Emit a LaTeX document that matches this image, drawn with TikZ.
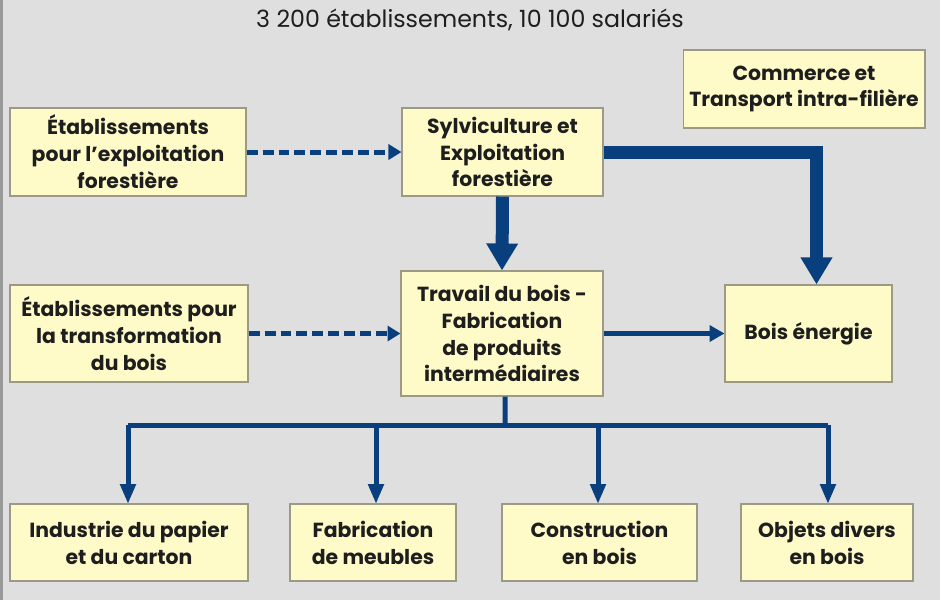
\documentclass[tikz,border=0pt]{standalone}
\usepackage{fontspec}
\setmainfont{Poppins}
\usetikzlibrary{positioning,arrows.meta,calc}
\definecolor{fondgris}{HTML}{DFDFDF}
\definecolor{bordgris}{HTML}{9A9A9A}
\definecolor{boitejaune}{HTML}{FFFBC9}
\definecolor{traitboite}{HTML}{9C9A86}
\definecolor{bleuflux}{HTML}{0A3F7E}
\definecolor{texte}{HTML}{1E1E1E}
\tikzset{
  boite/.style={draw=traitboite, fill=boitejaune, line width=0.6pt, align=center,
    inner sep=0pt, text=texte, font=\bfseries\fontsize{11.6}{15.3}\selectfont},
  flux/.style={draw=bleuflux, line width=0.26cm,
    -{Triangle[width=0.6cm,length=0.54cm]}},
  fluxmoyen/.style={draw=bleuflux, line width=0.11cm,
    -{Triangle[width=0.32cm,length=0.3cm]}},
  fluxdash/.style={draw=bleuflux, line width=0.1cm, dash pattern=on 0.22cm off 0.1cm,
    -{Triangle[width=0.3cm,length=0.26cm]}},
  branche/.style={draw=bleuflux, line width=0.1cm},
  branchefleche/.style={draw=bleuflux, line width=0.1cm,
    -{Triangle[width=0.3cm,length=0.4cm]}}
}
\begin{document}
\begin{tikzpicture}[x=0.02cm, y=-0.02cm]
  % fond
  \fill[fondgris] (0,0) rectangle (940,600);
  \fill[bordgris] (0,0) rectangle (3,600);
  \useasboundingbox (0,0) rectangle (940,600);

  \node[text=texte, font=\fontsize{13.5}{16}\selectfont] (titre) at (470,20)
    {3 200 établissements, 10 100 salariés};

  % ligne du haut
  \node[boite, minimum width=4.84cm, minimum height=1.56cm] (commerce) at (804,89)
    {Commerce et\\Transport intra-filière};
  \node[boite, minimum width=4.72cm, minimum height=1.76cm] (exploit) at (128,152)
    {Établissements\\pour l’exploitation\\forestière};
  \node[boite, minimum width=4.02cm, minimum height=1.76cm] (sylvi) at (502.5,152)
    {Sylviculture et\\Exploitation\\forestière};

  % ligne du milieu
  \node[boite, minimum width=4.76cm, minimum height=1.94cm] (transfo) at (129,333.5)
    {Établissements pour\\la transformation\\du bois};
  \node[boite, minimum width=4.04cm, minimum height=2.5cm] (travail) at (502,333.5)
    {Travail du bois -\\Fabrication\\de produits\\intermédiaires};
  \node[boite, minimum width=3.34cm, minimum height=1.94cm] (energie) at (808.5,333.5)
    {Bois énergie};

  % ligne du bas
  \node[boite, minimum width=4.76cm, minimum height=1.54cm] (papier) at (129,542.5)
    {Industrie du papier\\et du carton};
  \node[boite, minimum width=3.32cm, minimum height=1.54cm] (meubles) at (373,542.5)
    {Fabrication\\de meubles};
  \node[boite, minimum width=3.9cm, minimum height=1.54cm] (constr) at (599.5,542.5)
    {Construction\\en bois};
  \node[boite, minimum width=3.44cm, minimum height=1.54cm] (objets) at (827,542.5)
    {Objets divers\\en bois};

  % flux
  \draw[fluxdash] (exploit.east) -- (sylvi.west);
  \draw[fluxdash] (transfo.east) -- (travail.west);
  \draw[flux] (sylvi.south) -- (travail.north);
  \draw[flux] (sylvi.east) -| ([xshift=0.16cm]energie.north);
  \draw[fluxmoyen] (travail.east) -- (energie.west);

  \coordinate (bus) at (505,425);
  \draw[branche] ([xshift=0.06cm]travail.south) -- (bus);
  \draw[branche] (128,425) -- (828,425);
  \foreach \cible/\px in {papier/128, meubles/376, constr/598, objets/828}
    \draw[branchefleche] (\px,425) -- (\px,504);
\end{tikzpicture}
\end{document}
